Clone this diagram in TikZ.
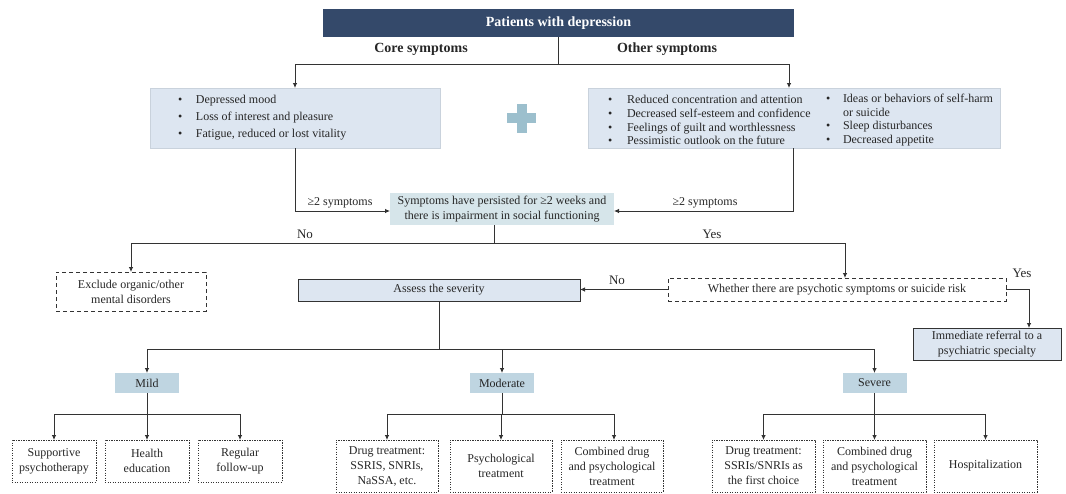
\documentclass[tikz,border=0pt]{standalone}
\usepackage{fontspec}
\setmainfont{Liberation Serif}
\usetikzlibrary{arrows.meta}
\definecolor{navy}{HTML}{34496A}
\definecolor{lightblue}{HTML}{DDE6F1}
\definecolor{tealbox}{HTML}{D6E5EA}
\definecolor{sevbox}{HTML}{BFD5E1}
\definecolor{pluscol}{HTML}{9CBFCD}
\definecolor{ln}{HTML}{333333}
\definecolor{txt}{HTML}{262626}
\definecolor{boxborder}{HTML}{C9D2DC}
\begin{document}
\begin{tikzpicture}[x=1pt,y=-1pt,
  every node/.style={font=\fontsize{12}{14.5}\selectfont, text=txt, inner sep=0pt, outer sep=0pt},
  conn/.style={draw=ln, line width=0.8pt},
  arr/.style={conn, -{Latex[length=5pt,width=4.5pt]}},
  lbox/.style={fill=lightblue, draw=boxborder, line width=0.6pt},
  abox/.style={fill=lightblue, draw=ln, line width=0.8pt, align=center},
  dbox/.style={draw=ln, line width=0.8pt, dash pattern=on 4pt off 3pt, align=center},
  sevstyle/.style={fill=sevbox, minimum width=64pt, minimum height=20pt},
  leaf/.style={draw=ln, line width=0.8pt, dash pattern=on 1.2pt off 1.3pt, align=center, font=\fontsize{12}{15}\selectfont},
  lbl/.style={font=\fontsize{13}{15}\selectfont},
  hdr/.style={font=\bfseries\fontsize{14}{16}\selectfont}
]
\useasboundingbox (0,0) rectangle (1066,493);

% top
\node[fill=navy, minimum width=471pt, minimum height=28pt, text=white, hdr] (top) at (558.5,23) {Patients with depression};
\node[hdr] (coreh) at (421,49) {Core symptoms};
\node[hdr] (otherh) at (667,49) {Other symptoms};
\coordinate (split) at (558.5,64);

% symptom boxes
\node[lbox, minimum width=290pt, minimum height=60pt] (core) at (295,118) {};
\node[lbox, minimum width=412pt, minimum height=60pt] (other) at (794,118) {};
\node[anchor=west, align=left, font=\fontsize{12}{17}\selectfont] (coretxt) at (178,117.5)
  {\makebox[18pt][l]{\textbullet}Depressed mood\\
   \makebox[18pt][l]{\textbullet}Loss of interest and pleasure\\
   \makebox[18pt][l]{\textbullet}Fatigue, reduced or lost vitality};
\node[anchor=west, align=left, font=\fontsize{12}{13.8}\selectfont] (oth1) at (608,120)
  {\makebox[19pt][l]{\textbullet}Reduced concentration and attention\\
   \makebox[19pt][l]{\textbullet}Decreased self-esteem and confidence\\
   \makebox[19pt][l]{\textbullet}Feelings of guilt and worthlessness\\
   \makebox[19pt][l]{\textbullet}Pessimistic outlook on the future};
\node[anchor=west, align=left, font=\fontsize{12}{13.8}\selectfont] (oth2) at (826,120)
  {\makebox[17pt][l]{\textbullet}Ideas or behaviors of self-harm\\
   \makebox[17pt][l]{}or suicide\\
   \makebox[17pt][l]{\textbullet}Sleep disturbances\\
   \makebox[17pt][l]{\textbullet}Decreased appetite};
\fill[pluscol] (507,113) rectangle (536,123);
\fill[pluscol] (516.5,103.5) rectangle (526.5,132.5);

\draw[conn] (top.south) -- (split);
\draw[arr] (split) -| (core.north);
\draw[arr] (split) -| ([xshift=-5pt]other.north);

% middle
\node[fill=tealbox, minimum width=224pt, minimum height=32pt, align=center, font=\fontsize{12}{14.5}\selectfont] (mid) at (502,209)
  {Symptoms have persisted for ≥2 weeks and\\there is impairment in social functioning};
\draw[arr] (core.south) |- ([yshift=-2pt]mid.west);
\draw[arr] ([xshift=-1pt]other.south) |- ([yshift=-2pt]mid.east);
\node (l2a) at (340,203) {≥2 symptoms};
\node (l2b) at (705,203) {≥2 symptoms};

\coordinate (j1) at (494,243);
\node[dbox, minimum width=150pt, minimum height=39pt, font=\fontsize{12}{15}\selectfont] (excl) at (131,291.5) {Exclude organic/other\\mental disorders};
\node[dbox, minimum width=338pt, minimum height=23pt] (psy) at (837,289.5) {Whether there are psychotic symptoms or suicide risk};
\draw[conn] ([xshift=-8pt]mid.south) -- (j1);
\draw[arr] (j1) -| (excl.north);
\draw[arr] (j1) -| ([xshift=8pt]psy.north);
\node[lbl] (no1) at (305,234) {No};
\node[lbl] (yes1) at (712,234) {Yes};

\node[abox, minimum width=282pt, minimum height=22pt] (assess) at (439,290) {Assess the severity};
\draw[arr] (psy.west) -- (assess.east |- psy.west);
\node[lbl] (no2) at (617,280) {No};

\node[abox, minimum width=148pt, minimum height=32pt, font=\fontsize{12}{15}\selectfont] (ref) at (987,344) {Immediate referral to a\\psychiatric specialty};
\draw[arr] (psy.east) -| ([xshift=42pt]ref.north);
\node[lbl] (yes2) at (1022,273) {Yes};

% severity
\coordinate (j2) at (439,349);
\node[sevstyle] (mild) at (147,383) {Mild};
\node[sevstyle] (mod) at (502,383) {Moderate};
\node[sevstyle] (sev) at (874.5,383) {Severe};
\draw[conn] (assess.south) -- (j2);
\draw[arr] (j2) -| (mild.north);
\draw[arr] (j2) -| (mod.north);
\draw[arr] (j2) -| (sev.north);

% mild leaves
\node[leaf, minimum width=84pt, minimum height=42pt] (a1) at (54,461) {Supportive\\psychotherapy};
\node[leaf, minimum width=84pt, minimum height=42pt] (a2) at (147,461) {Health\\education};
\node[leaf, minimum width=84pt, minimum height=42pt] (a3) at (240,461) {Regular\\follow-up};
\coordinate (m1) at (147,414);
\draw[conn] (mild.south) -- (m1);
\draw[arr] (m1) -| (a1.north);
\draw[arr] (m1) -- (a2.north);
\draw[arr] (m1) -| (a3.north);

% moderate leaves
\node[leaf, minimum width=102pt, minimum height=52pt] (b1) at (387,466) {Drug treatment:\\SSRIS, SNRIs,\\NaSSA, etc.};
\node[leaf, minimum width=102pt, minimum height=52pt] (b2) at (501,466) {Psychological\\treatment};
\node[leaf, minimum width=102pt, minimum height=52pt] (b3) at (612,466) {Combined drug\\and psychological\\treatment};
\coordinate (m2) at (502,414);
\draw[conn] (mod.south) -- (m2);
\draw[arr] (m2) -| (b1.north);
\draw[arr] (m2) -| (b2.north);
\draw[arr] (m2) -| ([xshift=2pt]b3.north);

% severe leaves
\node[leaf, minimum width=103pt, minimum height=52pt] (c1) at (763.5,466) {Drug treatment:\\SSRIs/SNRIs as\\the first choice};
\node[leaf, minimum width=103pt, minimum height=52pt] (c2) at (874.5,466) {Combined drug\\and psychological\\treatment};
\node[leaf, minimum width=103pt, minimum height=52pt] (c3) at (985.5,466) {Hospitalization};
\coordinate (m3) at (874.5,414);
\draw[conn] (sev.south) -- (m3);
\draw[arr] (m3) -| (c1.north);
\draw[arr] (m3) -- (c2.north);
\draw[arr] (m3) -| (c3.north);
\end{tikzpicture}
\end{document}
